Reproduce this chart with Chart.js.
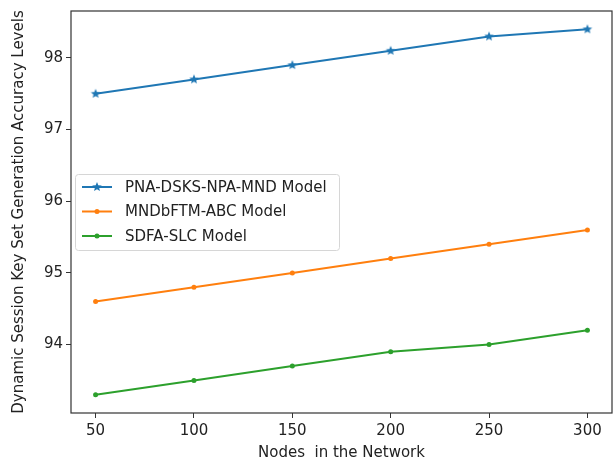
<!DOCTYPE html>
<html>
<head>
<meta charset="utf-8">
<script src="https://cdn.jsdelivr.net/npm/chart.js@4/dist/chart.umd.min.js"></script>
<style>
  html, body { margin: 0; padding: 0; background: #fff; overflow: hidden; }
  #wrap { width: 613px; height: 466px; overflow: hidden; }
</style>
</head>
<body>
<div id="wrap"><canvas id="c" width="617" height="466"></canvas></div>
<script>
// Network sizes (x) and accuracy levels (%) per model
const nodes = [50, 100, 150, 200, 250, 300];
const pnaDsks = [97.5, 97.7, 97.9, 98.1, 98.3, 98.4];
const mndbftm = [94.6, 94.8, 95.0, 95.2, 95.4, 95.6];
const sdfaSlc = [93.3, 93.5, 93.7, 93.9, 94.0, 94.2];
const seriesNames = ['PNA-DSKS-NPA-MND Model', 'MNDbFTM-ABC Model', 'SDFA-SLC Model'];
const xTicks = [50, 100, 150, 200, 250, 300];
const yTicks = [94, 95, 96, 97, 98];

const FONT = 'DejaVu Sans, sans-serif';
const FS = 15;
const colors = ['#1f77b4', '#ff7f0e', '#2ca02c'];

// small filled five-point star used as the first series' marker
function starImage(color, r) {
  const size = Math.ceil(r * 2 + 2);
  const cv = document.createElement('canvas');
  cv.width = size; cv.height = size;
  const g = cv.getContext('2d');
  const cx = size / 2, cy = size / 2;
  g.beginPath();
  for (let i = 0; i < 10; i++) {
    const rad = i % 2 === 0 ? r : r * 0.45;
    const a = -Math.PI / 2 + i * Math.PI / 5;
    const px = cx + rad * Math.cos(a), py = cy + rad * Math.sin(a);
    if (i === 0) g.moveTo(px, py); else g.lineTo(px, py);
  }
  g.closePath();
  g.fillStyle = color;
  g.fill();
  return cv;
}
const star = starImage(colors[0], 5);

function toPoints(ys) { return nodes.map((x, i) => ({ x: x, y: ys[i] })); }

const datasets = [pnaDsks, mndbftm, sdfaSlc].map((vals, i) => ({
  label: seriesNames[i],
  data: toPoints(vals),
  borderColor: colors[i],
  backgroundColor: colors[i],
  borderWidth: 2,
  pointStyle: i === 0 ? star : 'circle',
  pointRadius: i === 0 ? 5 : 2.5,
  pointBorderWidth: 0,
  tension: 0
}));

// full rectangular frame around the plotting area
const framePlugin = {
  id: 'frame',
  afterDraw(chart) {
    const { ctx, chartArea: a } = chart;
    ctx.save();
    ctx.strokeStyle = '#333';
    ctx.lineWidth = 1.2;
    ctx.strokeRect(a.left, a.top, a.right - a.left, a.bottom - a.top);
    ctx.restore();
  }
};

// boxed legend placed inside the plot on the left
const legendPlugin = {
  id: 'innerLegend',
  afterDraw(chart) {
    const { ctx, chartArea: a } = chart;
    const x0 = a.left + 4, y0 = 174, w = 264, h = 76, rowH = 24.5;
    ctx.save();
    ctx.fillStyle = 'rgba(255,255,255,0.85)';
    ctx.strokeStyle = '#d6d6d6';
    ctx.lineWidth = 1;
    ctx.beginPath();
    ctx.roundRect(x0 + 0.5, y0 + 0.5, w, h, 3);
    ctx.fill();
    ctx.stroke();
    ctx.font = FS + 'px ' + FONT;
    ctx.textBaseline = 'middle';
    chart.data.datasets.forEach((ds, i) => {
      const cy = y0 + 13 + i * rowH;
      ctx.strokeStyle = ds.borderColor;
      ctx.lineWidth = 2;
      ctx.beginPath();
      ctx.moveTo(x0 + 7, cy);
      ctx.lineTo(x0 + 37, cy);
      ctx.stroke();
      if (ds.pointStyle instanceof HTMLCanvasElement) {
        ctx.drawImage(ds.pointStyle, x0 + 22 - ds.pointStyle.width / 2, cy - ds.pointStyle.height / 2);
      } else {
        ctx.fillStyle = ds.borderColor;
        ctx.beginPath();
        ctx.arc(x0 + 22, cy, 2.5, 0, Math.PI * 2);
        ctx.fill();
      }
      ctx.fillStyle = '#222';
      ctx.textAlign = 'left';
      ctx.fillText(ds.label, x0 + 50, cy + 1);
    });
    ctx.restore();
  }
};

new Chart(document.getElementById('c'), {
  type: 'line',
  data: { datasets },
  options: {
    responsive: false,
    animation: false,
    layout: { padding: { top: 11, right: 1, left: 0, bottom: 0 } },
    plugins: { legend: { display: false }, tooltip: { enabled: false } },
    scales: {
      x: {
        type: 'linear',
        min: 37.5, max: 312.5,
        afterBuildTicks(s) { s.ticks = xTicks.map(v => ({ value: v })); },
        afterFit(s) { s.height = 53; s.paddingRight = 0; s.paddingLeft = 0; },
        grid: { display: true, drawOnChartArea: false, drawTicks: true, tickLength: 5, tickColor: '#333', tickWidth: 1 },
        border: { display: false },
        ticks: { color: '#222', font: { family: FONT, size: FS }, padding: 4, maxRotation: 0 },
        title: { display: true, text: 'Nodes  in the Network', color: '#222', font: { family: FONT, size: FS }, padding: { top: 2 } }
      },
      y: {
        min: 93.045, max: 98.655,
        afterBuildTicks(s) { s.ticks = yTicks.map(v => ({ value: v })); },
        afterFit(s) { s.width = 71; s.paddingTop = 0; s.paddingBottom = 0; },
        grid: { display: true, drawOnChartArea: false, drawTicks: true, tickLength: 5, tickColor: '#333', tickWidth: 1 },
        border: { display: false },
        ticks: { color: '#222', font: { family: FONT, size: FS }, padding: 3 },
        title: { display: true, text: 'Dynamic Session Key Set Generation Accuracy Levels', color: '#222', font: { family: FONT, size: FS }, padding: { top: 10, bottom: 2 } }
      }
    }
  },
  plugins: [framePlugin, legendPlugin]
});
</script>
</body>
</html>
